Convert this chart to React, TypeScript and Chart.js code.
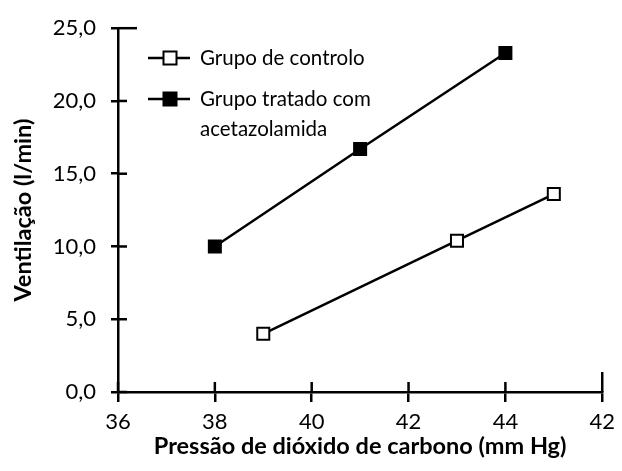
import React, { useEffect, useRef } from "react";
import { Chart, registerables } from "chart.js";

Chart.register(...registerables);

const xTickLabels = ["36", "38", "40", "42", "44", "42"];
const controlX = [39, 43, 45];
const controlY = [4.0, 10.4, 13.6];
const treatedX = [38, 41, 44];
const treatedY = [10.0, 16.7, 23.3];
const legendLabels = ["Grupo de controlo", "Grupo tratado com", "acetazolamida"];
const xTitle = "Pressão de dióxido de carbono (mm Hg)";
const yTitle = "Ventilação (l/min)";

const FONT = "Lato, 'Open Sans', sans-serif";

const innerTicks = {
  id: "innerTicks",
  afterDraw(chart: any) {
    const ctx = chart.ctx;
    const xs = chart.scales.x;
    const ys = chart.scales.y;
    ctx.save();
    ctx.strokeStyle = "#000";
    ctx.lineWidth = 2.5;
    for (const t of ys.ticks) {
      const py = ys.getPixelForValue(t.value);
      ctx.beginPath();
      ctx.moveTo(xs.left, py);
      ctx.lineTo(xs.left + (t.value === 25 ? 19 : 9), py);
      ctx.stroke();
    }
    for (const t of xs.ticks) {
      const px = xs.getPixelForValue(t.value);
      ctx.beginPath();
      ctx.moveTo(px, ys.bottom);
      ctx.lineTo(px, ys.bottom - (t.value === 46 ? 20 : 10));
      ctx.stroke();
    }
    const lx0 = 148, lx1 = 190, mx = 170, s = 13;
    const rows = [
      { y: 58, fill: "#fff" },
      { y: 99, fill: "#000" },
    ];
    ctx.font = `20.5px ${FONT}`;
    ctx.textBaseline = "middle";
    rows.forEach((r, i) => {
      ctx.lineWidth = 2.5;
      ctx.strokeStyle = "#000";
      ctx.beginPath();
      ctx.moveTo(lx0, r.y);
      ctx.lineTo(lx1, r.y);
      ctx.stroke();
      ctx.fillStyle = r.fill;
      ctx.fillRect(mx - s / 2, r.y - s / 2, s, s);
      ctx.lineWidth = 2;
      ctx.strokeRect(mx - s / 2, r.y - s / 2, s, s);
      ctx.fillStyle = "#000";
      ctx.fillText(legendLabels[i], 200, r.y);
    });
    ctx.fillText(legendLabels[2], 200, 129);
    ctx.restore();
  },
};

export default function App() {
  const ref = useRef<HTMLCanvasElement>(null);
  useEffect(() => {
    document.body.style.margin = "0";
    const chart = new Chart(ref.current!, {
      type: "scatter",
      data: {
        datasets: [
          {
            label: legendLabels[0],
            data: controlX.map((x, i) => ({ x, y: controlY[i] })),
            showLine: true,
            borderColor: "#000",
            borderWidth: 2.5,
            pointStyle: "rect",
            pointRadius: 8.5,
            pointBorderWidth: 2,
            pointBackgroundColor: "#fff",
            pointBorderColor: "#000",
          },
          {
            label: legendLabels[1] + " " + legendLabels[2],
            data: treatedX.map((x, i) => ({ x, y: treatedY[i] })),
            showLine: true,
            borderColor: "#000",
            borderWidth: 2.5,
            pointStyle: "rect",
            pointRadius: 8.5,
            pointBorderWidth: 2,
            pointBackgroundColor: "#000",
            pointBorderColor: "#000",
          },
        ],
      },
      options: {
        animation: false,
        responsive: false,
        layout: { padding: { left: 0, right: 9, top: 23, bottom: 0 } },
        plugins: { legend: { display: false }, tooltip: { enabled: false } },
        scales: {
          x: {
            type: "linear",
            min: 36,
            max: 46,
            afterFit: (s: any) => {
              s.height = 471 - 392;
            },
            border: { color: "#000", width: 2.5 },
            grid: { drawOnChartArea: false, color: "#000", lineWidth: 2.5, tickLength: 10 },
            ticks: {
              stepSize: 2,
              color: "#000",
              padding: 7,
              maxRotation: 0,
              font: { family: FONT, size: 22 },
              callback: (_v: any, i: number) => xTickLabels[i],
            },
            title: {
              display: true,
              text: xTitle,
              color: "#000",
              font: { family: FONT, size: 23.5, weight: "bold" },
              padding: { top: 0, bottom: 10 },
            },
          },
          y: {
            min: 0,
            max: 25,
            afterFit: (s: any) => {
              s.width = 118;
            },
            border: { color: "#000", width: 2.5 },
            grid: { drawOnChartArea: false, color: "#000", lineWidth: 2.5, tickLength: 7 },
            ticks: {
              stepSize: 5,
              color: "#000",
              padding: 15,
              font: { family: FONT, size: 22 },
              callback: (v: any) => Number(v).toFixed(1).replace(".", ","),
            },
            title: {
              display: true,
              text: yTitle,
              color: "#000",
              font: { family: FONT, size: 23.5, weight: "bold" },
              padding: { top: 9, bottom: 0 },
            },
          },
        },
      },
      plugins: [innerTicks],
    });
    return () => chart.destroy();
  }, []);
  return <canvas ref={ref} width={622} height={471} style={{ display: "block" }} />;
}
